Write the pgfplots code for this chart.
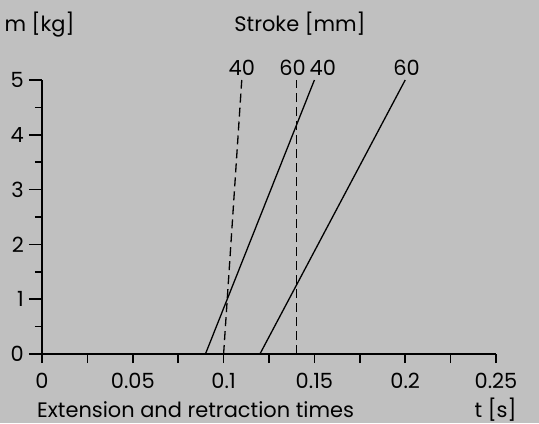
\documentclass[border=0pt]{standalone}
\usepackage{pgfplots}
\pgfplotsset{compat=1.18}
\usepackage{fontspec}
\setmainfont{Poppins}
\definecolor{bg}{HTML}{C0C0C0}
\begin{document}
\fontsize{21}{25}\selectfont
\begin{tikzpicture}[x=1bp,y=1bp]
\path[use as bounding box, fill=bg] (-42,-69) rectangle (497,354);
\begin{axis}[at={(0,0)}, anchor=origin, scale only axis, width=454bp, height=274bp,
  xmin=0, xmax=0.25, ymin=0, ymax=5, clip=false,
  axis x line=none, axis y line*=left,
  ytick={0,1,2,3,4,5}, minor ytick={0.5,1.5,2.5,3.5,4.5},
  tick align=outside, major tick length=13bp, minor tick length=7bp,
  axis line style={line width=1.6bp, black},
  tick style={line width=1.6bp, black},
  yticklabel style={/pgf/number format/assume math mode=true, font=\fontsize{21}{25}\selectfont, anchor=east, inner sep=0pt, xshift=-5bp},
]
\addplot[black, no marks, line width=1.3bp, dash pattern=on 9bp off 5bp] coordinates {(0.1,0) (0.11,5)};
\addplot[black, no marks, line width=1.3bp, dash pattern=on 9bp off 5bp] coordinates {(0.14,0) (0.14,5)};
\addplot[black, no marks, line width=1.3bp, solid] coordinates {(0.09,0) (0.15,5)};
\addplot[black, no marks, line width=1.3bp, solid] coordinates {(0.12,0) (0.2,5)};
\node[anchor=base, inner sep=0pt, yshift=5bp] at (axis cs:0.110,5) {40};
\node[anchor=base, inner sep=0pt, yshift=5bp] at (axis cs:0.138,5) {60};
\node[anchor=base, inner sep=0pt, yshift=5bp] at (axis cs:0.1546,5) {40};
\node[anchor=base, inner sep=0pt, yshift=5bp] at (axis cs:0.2008,5) {60};
\end{axis}
\begin{axis}[at={(0,0)}, anchor=origin, scale only axis, width=454bp, height=274bp,
  xmin=0, xmax=0.25, ymin=0, ymax=5, clip=false,
  axis y line=none, axis x line*=bottom,
  xtick={0,0.05,0.1,0.15,0.2,0.25}, xticklabels={0,0.05,0.1,0.15,0.2,0.25},
  minor xtick={0.025,0.075,0.125,0.175,0.225},
  tick align=outside, major tick length=9bp, minor tick length=9bp,
  axis line style={line width=1.6bp, black},
  tick style={line width=1.6bp, black},
  xticklabel style={font=\fontsize{21}{25}\selectfont, anchor=north, inner sep=0pt, yshift=-10bp},
]
\end{axis}
\node[anchor=base, inner sep=0pt] at (-2.5,323) {m [kg]};
\node[anchor=base, inner sep=0pt] at (258,323) {Stroke [mm]};
\node[anchor=base west, inner sep=0pt] at (-5,-63) {Extension and retraction times};
\node[anchor=base east, inner sep=0pt] at (474.7,-63) {t [s]};
\end{tikzpicture}
\end{document}
